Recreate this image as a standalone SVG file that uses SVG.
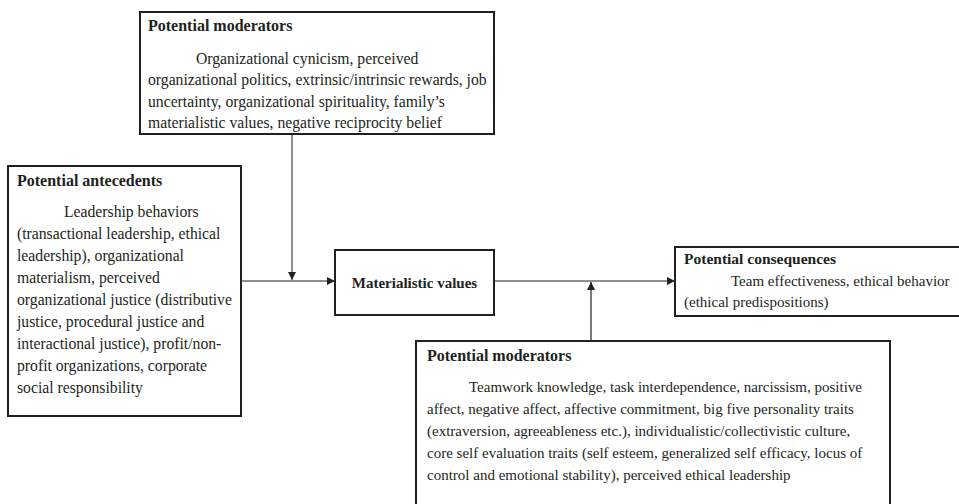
<svg xmlns="http://www.w3.org/2000/svg" width="959" height="504" viewBox="0 0 959 504">
<defs>
<style>
.box{fill:#fff;stroke:#231f20;stroke-width:2}
.t{font-family:"Liberation Serif","Times New Roman",serif;font-size:16px;font-weight:bold;fill:#231f20}
.b{font-family:"Liberation Serif","Times New Roman",serif;font-size:15px;fill:#231f20}
.big{font-size:15.7px}
.c{fill:none;stroke:#231f20;stroke-width:1.2}
.g{fill:none;stroke:#6d6e71;stroke-width:1.5}
</style>
<marker id="ah" viewBox="0 0 10 10" refX="10" refY="5" markerWidth="8" markerHeight="8" markerUnits="userSpaceOnUse" orient="auto"><path d="M0,0 L10,5 L0,10 z" fill="#231f20"/></marker>
</defs>
<rect width="959" height="504" fill="#fff"/>
<g id="connectors">
<line class="g" x1="292" y1="134" x2="292" y2="280" marker-end="url(#ah)"/>
<line class="c" x1="241" y1="281" x2="335" y2="281" marker-end="url(#ah)"/>
<line class="c" x1="494" y1="281" x2="675" y2="281" marker-end="url(#ah)"/>
<line class="c" x1="591" y1="341" x2="591" y2="282" marker-end="url(#ah)"/>
</g>
<g id="moderators-top">
<rect class="box" x="140" y="12" width="354" height="122"/>
<text class="t" x="148" y="31">Potential moderators</text>
<text class="b big" x="196" y="64">Organizational cynicism, perceived</text>
<text class="b big" x="148" y="85">organizational politics, extrinsic/intrinsic rewards, job</text>
<text class="b big" x="148" y="107">uncertainty, organizational spirituality, family’s</text>
<text class="b big" x="148" y="128">materialistic values, negative reciprocity belief</text>
</g>
<g id="antecedents">
<rect class="box" x="8" y="166" width="233" height="250"/>
<text class="t" x="17" y="186">Potential antecedents</text>
<text class="b big" x="64" y="217">Leadership behaviors</text>
<text class="b big" x="17" y="239">(transactional leadership, ethical</text>
<text class="b big" x="17" y="261">leadership), organizational</text>
<text class="b big" x="17" y="283">materialism, perceived</text>
<text class="b big" x="17" y="305">organizational justice (distributive</text>
<text class="b big" x="17" y="327">justice, procedural justice and</text>
<text class="b big" x="17" y="349">interactional justice), profit/non-</text>
<text class="b big" x="17" y="371">profit organizations, corporate</text>
<text class="b big" x="17" y="393">social responsibility</text>
</g>
<g id="materialistic">
<rect class="box" x="335" y="250" width="159" height="65"/>
<text class="t" x="414.5" y="288" text-anchor="middle" style="font-size:15px">Materialistic values</text>
</g>
<g id="consequences">
<rect class="box" x="675" y="247" width="300" height="69"/>
<text class="t" x="684" y="264" style="font-size:15.5px">Potential consequences</text>
<text class="b" x="731" y="286">Team effectiveness, ethical behavior</text>
<text class="b" x="684" y="307">(ethical predispositions)</text>
</g>
<g id="moderators-bottom">
<rect class="box" x="416" y="341" width="474" height="180"/>
<text class="t" x="427" y="361">Potential moderators</text>
<text class="b" x="469" y="392">Teamwork knowledge, task interdependence, narcissism, positive</text>
<text class="b" x="427" y="414">affect, negative affect, affective commitment, big five personality traits</text>
<text class="b" x="427" y="436">(extraversion, agreeableness etc.), individualistic/collectivistic culture,</text>
<text class="b" x="427" y="458">core self evaluation traits (self esteem, generalized self efficacy, locus of</text>
<text class="b" x="427" y="480">control and emotional stability), perceived ethical leadership</text>
</g>
</svg>
